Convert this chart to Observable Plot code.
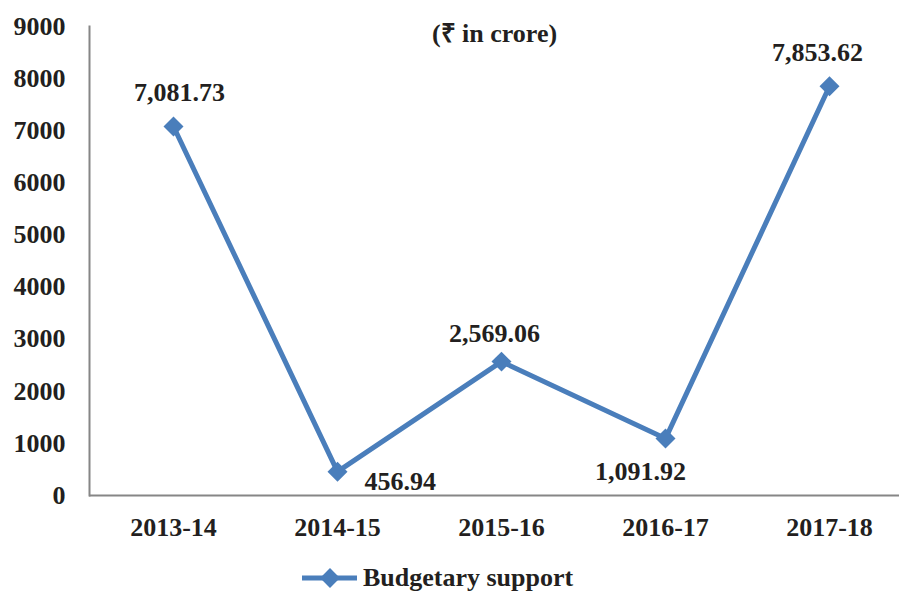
<!DOCTYPE html>
<html>
<head>
<meta charset="utf-8">
<script src="https://cdn.jsdelivr.net/npm/d3@7"></script>
<script src="https://cdn.jsdelivr.net/npm/@observablehq/plot@0.6"></script>
<style>
  body { margin: 0; background: #fff; font-family: 'Liberation Serif', 'Times New Roman', serif; }
  #chart { position: relative; width: 899px; height: 595px; overflow: hidden; }
  #legend { position: absolute; left: 300px; top: 564px; display: flex; align-items: center; font-family: 'Liberation Serif', serif; font-weight: bold; font-size: 26px; line-height: 28px; color: #231f20; }
</style>
</head>
<body>
<div id="chart"></div>
<script>
const years = ["2013-14", "2014-15", "2015-16", "2016-17", "2017-18"];
const support = [7081.73, 456.94, 2569.06, 1091.92, 7853.62];
const labels = ["7,081.73", "456.94", "2,569.06", "1,091.92", "7,853.62"];
const yTicks = [0, 1000, 2000, 3000, 4000, 5000, 6000, 7000, 8000, 9000];
const seriesName = "Budgetary support";
const unitNote = "(₹ in crore)";

// label placement (styling)
const place = [
  {dx: 6, dy: -34, anchor: "middle"},
  {dx: 27, dy: 10, anchor: "start"},
  {dx: -7, dy: -28, anchor: "middle"},
  {dx: -25, dy: 33, anchor: "middle"},
  {dx: -12, dy: -34, anchor: "middle"}
];

const data = years.map((y, i) => ({year: y, value: support[i], label: labels[i], i}));
const color = "#4a7ebb";
const font = "'Liberation Serif', 'Times New Roman', serif";

const plot = Plot.plot({
  width: 899,
  height: 560,
  marginLeft: 89,
  marginRight: 0,
  marginTop: 26,
  marginBottom: 65,
  style: {fontFamily: font, fontSize: "26px", fontWeight: "bold", color: "#231f20", background: "#fff"},
  x: {type: "point", domain: years, range: [171, 830], padding: 0, label: null, tickSize: 0, tickPadding: 22},
  y: {domain: [0, 9000], ticks: yTicks, tickFormat: d => String(d), label: null, tickSize: 0, tickPadding: 24},
  marks: [
    Plot.frame({anchor: "left", stroke: "#868686", strokeWidth: 2}),
    Plot.ruleY([0], {stroke: "#868686", strokeWidth: 2}),
    Plot.lineY(data, {x: "year", y: "value", stroke: color, strokeWidth: 5}),
    Plot.dot(data, {x: "year", y: "value", symbol: "diamond2", r: 9, fill: color, stroke: null}),
    ...place.map((p, k) => Plot.text(data.filter(d => d.i === k), {
      x: "year", y: "value", text: "label", dx: p.dx, dy: p.dy, textAnchor: p.anchor,
      fontSize: 26, fontWeight: "bold", fill: "#231f20", fontFamily: font
    })),
    Plot.text([unitNote], {frameAnchor: "top", dy: -3, fontSize: 26, fontWeight: "bold", fill: "#231f20", fontFamily: font})
  ]
});
document.getElementById("chart").appendChild(plot);

const legend = document.createElement("div");
legend.id = "legend";
legend.innerHTML = `<svg width="60" height="20" style="margin-right:3px"><line x1="2" y1="10" x2="57" y2="10" stroke="${color}" stroke-width="5"/><rect x="23" y="3" width="14" height="14" fill="${color}" transform="rotate(45 30 10)"/></svg><span>${seriesName}</span>`;
document.getElementById("chart").appendChild(legend);
</script>
</body>
</html>
